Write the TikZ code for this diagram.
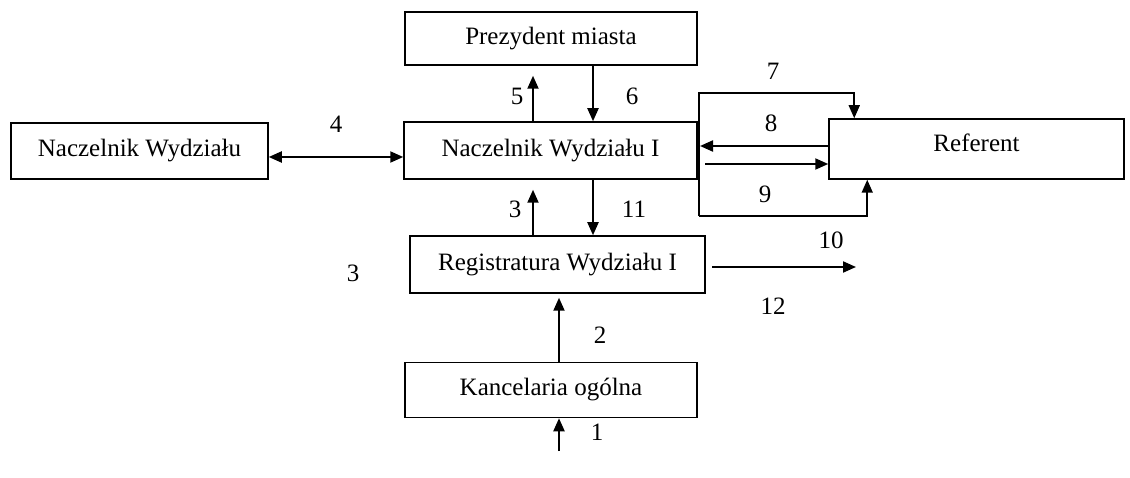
\documentclass[tikz,border=0pt]{standalone}
\usepackage{fontspec}
\setmainfont{Liberation Serif}
\usetikzlibrary{arrows.meta,calc}
\begin{document}
\begin{tikzpicture}[x=1pt,y=-1pt,
  box/.style={draw,line width=1.5pt,rectangle,inner sep=0pt,font=\fontsize{25}{30}\selectfont},
  arr/.style={line width=2.1pt,-{Triangle[length=13pt,width=11pt]}},
  dbl/.style={line width=2.1pt,{Triangle[length=13pt,width=11pt]}-{Triangle[length=13pt,width=11pt]}},
  loopline/.style={line width=1.7pt,-{Triangle[length=13pt,width=11pt]}},
  lab/.style={font=\fontsize{25}{30}\selectfont,inner sep=0pt}]
\useasboundingbox (0,0) rectangle (1130,478);

% boxes
\node[box,minimum width=292pt,minimum height=53pt] (prez) at (551,38.5) {Prezydent miasta};
\node[box,minimum width=293pt,minimum height=57pt] (nacz) at (550.5,150.5) {Naczelnik Wydziału I};
\node[box,minimum width=257pt,minimum height=56pt] (naczL) at (139.5,151) {Naczelnik Wydziału};
\node[box,minimum width=295pt,minimum height=60pt,text depth=12pt] (ref) at (976.5,149) {Referent};
\node[box,minimum width=295pt,minimum height=57pt] (reg) at (557.5,264.5) {Registratura Wydziału I};
\node[box,minimum width=292pt,minimum height=55pt] (kanc) at (551,390) {Kancelaria ogólna};

% vertical links between the central boxes
\coordinate (xa) at (533,0);
\coordinate (xb) at (593,0);
\draw[arr] (nacz.north -| xa) -- ([yshift=-10pt]prez.south -| xa);
\draw[arr] (prez.south -| xb) -- (nacz.north -| xb);
\draw[arr] (reg.north -| xa) -- ([yshift=-10pt]nacz.south -| xa);
\draw[arr] (nacz.south -| xb) -- (reg.north -| xb);

% two-way link to the left box
\draw[dbl] (naczL.east |- 0,157) -- (nacz.west |- 0,157);

% loop round to the Referent
\coordinate (lt) at (699,93);
\coordinate (lb) at (699,216);
\draw[loopline] (lb) -- (lt) -| ($(ref.north west)+(26,0)$);
\draw[loopline] (lb) -| ($(ref.south west)+(39,0)$);
\coordinate (t8) at (700,146);
\coordinate (s9) at (705,164);
\draw[arr] (ref.west |- t8) -- (t8);
\draw[arr] (s9) -- (ref.west |- s9);

% outgoing arrow of the registry
\coordinate (s10) at (712,267);
\coordinate (e10) at (856,267);
\draw[arr] (s10) -- (e10);

% incoming arrows from below
\coordinate (xc) at (559,0);
\coordinate (in1) at (559,451);
\draw[arr] (kanc.north -| xc) -- ([yshift=-4pt]reg.south -| xc);
\draw[arr] (in1) -- (kanc.south -| xc);

% labels
\node[lab] (n1) at (597,432) {1};
\node[lab] (n2) at (600,335) {2};
\node[lab] (n3a) at (515,209) {3};
\node[lab] (n3b) at (353,273) {3};
\node[lab] (n4) at (336,124) {4};
\node[lab] (n5) at (517,96) {5};
\node[lab] (n6) at (632,96) {6};
\node[lab] (n7) at (773,71) {7};
\node[lab] (n8) at (771,123) {8};
\node[lab] (n9) at (765,194) {9};
\node[lab] (n10) at (831,240) {10};
\node[lab] (n11) at (634,209) {11};
\node[lab] (n12) at (773,306) {12};
\end{tikzpicture}
\end{document}
